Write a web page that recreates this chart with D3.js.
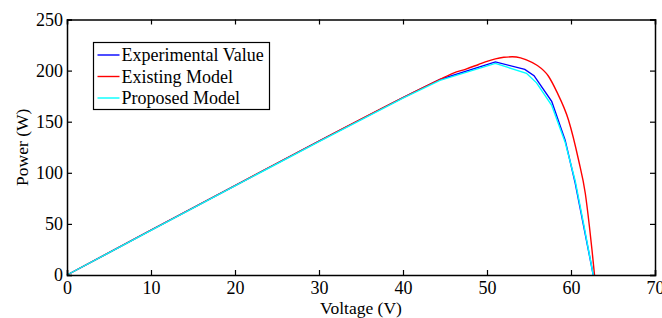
<!DOCTYPE html>
<html>
<head>
<meta charset="utf-8">
<script src="https://cdn.jsdelivr.net/npm/d3@7"></script>
<style>
  body { margin: 0; background: #fff; }
  text { font-family: "Liberation Serif", "Times New Roman", Times, serif; }
</style>
</head>
<body>
<script>
// Voltage / power readings taken off the figure
var expV = [0, 10, 20, 30, 40, 44.4, 51, 54.5, 55.6, 57.7, 59.3, 60.5, 62.65];
var expP = [0, 43.8, 87.5, 131, 173.5, 191.3, 208.5, 201.2, 195, 170, 132, 90, 0];

var existV = [0, 10, 20, 30, 40, 44.4, 46, 47.5, 49, 50, 51, 52, 53, 54, 54.7, 55.9, 57.3, 58.3, 59.7, 60.9, 61.7, 62.2, 62.5, 62.8];
var existP = [0, 43.8, 87.5, 131, 173.5, 191.3, 197.5, 201.5, 206, 209, 211.5, 213, 213.5, 212.5, 210.4, 205.5, 194.7, 179.4, 151.7, 112.5, 80, 47, 24.5, 0];

var propV = [0, 10, 20, 30, 40, 44.4, 51, 54.7, 55.9, 57.7, 59.3, 60.5, 61.5, 62.65];
var propP = [0, 43.6, 87.2, 130.5, 173, 190.5, 207, 197.3, 188, 166, 130, 92, 50, 0];

var xTicks = [0, 10, 20, 30, 40, 50, 60, 70];
var yTicks = [0, 50, 100, 150, 200, 250];
var seriesNames = ["Experimental Value", "Existing Model", "Proposed Model"];
var seriesColors = ["#0000ff", "#ff0000", "#00ffff"];

var width = 662, height = 318;
var margin = {left: 67, right: 7, top: 19.5, bottom: 43};

var svg = d3.select("body").append("svg")
    .attr("width", width)
    .attr("height", height);

var x = d3.scaleLinear().domain([0, 70]).range([margin.left, width - margin.right]);
var y = d3.scaleLinear().domain([0, 250]).range([height - margin.bottom, margin.top]);

// series (the model curve is smooth, the measured ones are straight segments)
var series = [
    {v: expV, p: expP, curve: d3.curveLinear},
    {v: existV, p: existP, curve: d3.curveMonotoneX},
    {v: propV, p: propP, curve: d3.curveLinear}
];

series.forEach(function (s, i) {
    var pts = s.v.map(function (v, j) { return [v, s.p[j]]; });
    var line = d3.line()
        .curve(s.curve)
        .x(function (d) { return x(d[0]); })
        .y(function (d) { return y(d[1]); });
    svg.append("path")
        .datum(pts)
        .attr("fill", "none")
        .attr("stroke", seriesColors[i])
        .attr("stroke-width", 1.4)
        .attr("d", line);
});

// axes, MATLAB style box with inward ticks
var tickLen = 5;
svg.append("g")
    .attr("transform", "translate(0," + y(0) + ")")
    .call(d3.axisBottom(x).tickValues(xTicks).tickSize(-tickLen).tickPadding(6))
    .call(styleAxis);
svg.append("g")
    .attr("transform", "translate(0," + y(250) + ")")
    .call(d3.axisTop(x).tickValues(xTicks).tickSize(-tickLen).tickFormat(""))
    .call(styleAxis);
svg.append("g")
    .attr("transform", "translate(" + x(0) + ",0)")
    .call(d3.axisLeft(y).tickValues(yTicks).tickSize(-tickLen).tickPadding(4))
    .call(styleAxis);
svg.append("g")
    .attr("transform", "translate(" + x(70) + ",0)")
    .call(d3.axisRight(y).tickValues(yTicks).tickSize(-tickLen).tickFormat(""))
    .call(styleAxis);

function styleAxis(g) {
    g.attr("font-family", null);
    g.select(".domain").attr("stroke", "#000").attr("stroke-width", 1.5);
    g.selectAll(".tick line").attr("stroke", "#000").attr("stroke-width", 1.2);
    g.selectAll(".tick text")
        .attr("fill", "#000")
        .style("font-size", "18px");
}

// axis titles
svg.append("text")
    .attr("x", x(35))
    .attr("y", 313.5)
    .attr("text-anchor", "middle")
    .style("font-size", "17.5px")
    .text("Voltage (V)");

svg.append("text")
    .attr("transform", "translate(28," + y(125) + ") rotate(-90)")
    .attr("text-anchor", "middle")
    .style("font-size", "17.5px")
    .text("Power (W)");

// legend
var legend = svg.append("g").attr("transform", "translate(93.5,42.5)");
legend.append("rect")
    .attr("width", 176)
    .attr("height", 67)
    .attr("fill", "#fff")
    .attr("stroke", "#000")
    .attr("stroke-width", 1.2);

seriesNames.forEach(function (name, i) {
    var ly = 12.5 + i * 21.5;
    legend.append("line")
        .attr("x1", 4).attr("x2", 26)
        .attr("y1", ly).attr("y2", ly)
        .attr("stroke", seriesColors[i])
        .attr("stroke-width", 1.4);
    legend.append("text")
        .attr("x", 28)
        .attr("y", ly + 6)
        .style("font-size", "18px")
        .text(name);
});
</script>
</body>
</html>
